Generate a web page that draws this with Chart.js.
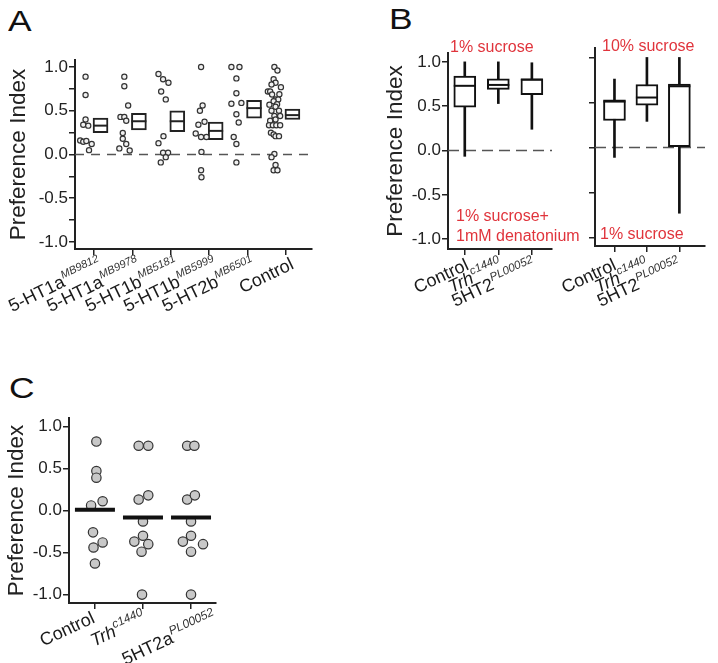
<!DOCTYPE html>
<html>
<head>
<meta charset="utf-8">
<script src="https://cdn.jsdelivr.net/npm/chart.js@4.4.0/dist/chart.umd.min.js"></script>
<style>
  body { margin: 0; background: #fff; width: 718px; height: 663px; position: relative; overflow: hidden;
         font-family: "Liberation Sans", Arial, sans-serif; }
  .panel { position: absolute; }
  .letter { position: absolute; font-size: 30px; line-height: 1; color: #111; transform: scaleX(1.18); transform-origin: left top; }
  .red { position: absolute; font-size: 16px; line-height: 1; color: #e0343c; white-space: nowrap; }
</style>
</head>
<body>
<div class="letter" style="left:8px;top:6px">A</div>
<div class="letter" style="left:389px;top:4px">B</div>
<div class="letter" style="left:9px;top:373px">C</div>

<div class="panel" style="left:0;top:40px"><canvas id="chartA" width="330" height="300"></canvas></div>
<div class="panel" style="left:375px;top:30px"><canvas id="chartB1" width="190" height="300"></canvas></div>
<div class="panel" style="left:555px;top:30px"><canvas id="chartB2" width="163" height="300"></canvas></div>
<div class="panel" style="left:0;top:380px"><canvas id="chartC" width="240" height="283"></canvas></div>

<div class="red" style="left:450px;top:39px">1% sucrose</div>
<div class="red" style="left:602px;top:38px">10% sucrose</div>
<div class="red" style="left:456px;top:208px">1% sucrose+</div>
<div class="red" style="left:456px;top:228px">1mM denatonium</div>
<div class="red" style="left:600px;top:226px">1% sucrose</div>

<script>
const FONT = '"Liberation Sans", Arial, sans-serif';
Chart.defaults.font.family = FONT;
Chart.defaults.color = '#222';
Chart.defaults.animation = false;

// ---- panel A: single flies per line, box = quartiles with median
const catsA = ['5-HT1a', '5-HT1a', '5-HT1b', '5-HT1b', '5-HT2b', 'Control'];
const supsA = ['MB9812', 'MB9978', 'MB5181', 'MB5999', 'MB6501', ''];
const pointsA = [
  [0.89, 0.68, 0.40, 0.34, 0.33, 0.16, 0.145, 0.155, 0.12, 0.05],
  [0.89, 0.78, 0.56, 0.43, 0.43, 0.385, 0.245, 0.18, 0.12, 0.07, 0.045],
  [0.92, 0.86, 0.82, 0.72, 0.63, 0.21, 0.13, 0.02, 0.02, -0.03, -0.09],
  [1.0, 0.56, 0.50, 0.375, 0.34, 0.24, 0.20, 0.20, 0.03, -0.18, -0.26],
  [1.0, 1.0, 0.87, 0.70, 0.58, 0.59, 0.46, 0.365, 0.20, 0.12, -0.09],
  [1.0, 0.96, 0.86, 0.82, 0.80, 0.77, 0.72, 0.72, 0.69, 0.685, 0.63, 0.63, 0.61, 0.575, 0.57, 0.545,
   0.50, 0.50, 0.44, 0.44, 0.40, 0.385, 0.335, 0.335, 0.335, 0.335, 0.25, 0.23, 0.21, 0.21,
   0.005, -0.03, -0.12, -0.18, -0.18]
];
// horizontal scatter of the dots, in category units
const jitterA = [
  [-0.22, -0.22, -0.22, -0.28, -0.15, -0.36, -0.28, -0.20, -0.06, -0.13],
  [-0.21, -0.21, -0.11, -0.31, -0.21, -0.16, -0.25, -0.25, -0.16, -0.34, -0.07],
  [-0.32, -0.20, -0.06, -0.25, -0.13, -0.19, -0.32, -0.20, -0.07, -0.13, -0.26],
  [-0.21, -0.17, -0.24, -0.12, -0.28, -0.35, -0.21, -0.07, -0.20, -0.21, -0.20],
  [-0.42, -0.21, -0.29, -0.29, -0.42, -0.16, -0.29, -0.23, -0.36, -0.29, -0.29],
  [-0.30, -0.22, -0.32, -0.27, -0.375, -0.13, -0.47, -0.41, -0.17, -0.36, -0.27, -0.20, -0.32, -0.23, -0.43, -0.27,
   -0.18, -0.375, -0.30, -0.15, -0.27, -0.41, -0.44, -0.34, -0.25, -0.15, -0.39, -0.32, -0.27, -0.18,
   -0.30, -0.375, -0.27, -0.32, -0.22]
];
const q1A = [0.25, 0.28, 0.26, 0.17, 0.415, 0.40];
const medA = [0.33, 0.38, 0.38, 0.27, 0.53, 0.45];
const q3A = [0.415, 0.47, 0.50, 0.37, 0.62, 0.52];

// ---- panel B: box plots, two conditions
const catsB = ['Control', 'Trh', '5HT2'];
const supsB = ['', 'c1440', 'PL00052'];
const italB = [false, true, false];
const loB1 = [-0.065, 0.53, 0.24];
const q1B1 = [0.49, 0.69, 0.63];
const medB1 = [0.73, 0.74, 0.80];
const q3B1 = [0.84, 0.81, 0.81];
const hiB1 = [1.0, 1.0, 0.99];
const loB2 = [-0.11, 0.29, -0.73];
const q1B2 = [0.30, 0.47, 0.01];
const medB2 = [0.51, 0.555, 0.68];
const q3B2 = [0.53, 0.70, 0.705];
const hiB2 = [0.76, 1.0, 1.0];

// ---- panel C: dots with mean bar
const catsC = ['Control', 'Trh', '5HT2a'];
const supsC = ['', 'c1440', 'PL00052'];
const italC = [false, true, false];
const pointsC = [
  [0.82, 0.47, 0.39, 0.06, 0.11, -0.26, -0.44, -0.38, -0.63],
  [0.77, 0.77, 0.13, 0.18, -0.13, -0.30, -0.37, -0.40, -0.49, -1.0],
  [0.77, 0.77, 0.13, 0.18, -0.13, -0.30, -0.37, -0.40, -0.49, -1.0]
];
const jitterC = [
  [0.03, 0.03, 0.03, -0.08, 0.16, -0.04, -0.03, 0.16, 0.0],
  [-0.09, 0.11, -0.09, 0.11, 0.0, 0.0, -0.18, 0.11, -0.03, -0.02],
  [-0.08, 0.07, -0.08, 0.08, 0.0, 0.0, -0.17, 0.25, 0.0, 0.0]
];
const meanC = [0.01, -0.083, -0.083];

function zeroLine(dash) {
  return {
    id: 'zeroLine',
    beforeDatasetsDraw(chart) {
      const { ctx, chartArea: a } = chart;
      const py = chart.scales.y.getPixelForValue(0);
      ctx.save();
      ctx.strokeStyle = '#555';
      ctx.lineWidth = 1.5;
      ctx.setLineDash(dash);
      ctx.beginPath();
      ctx.moveTo(a.left, py);
      ctx.lineTo(a.right, py);
      ctx.stroke();
      ctx.restore();
    }
  };
}

// rotated category labels with a small italic superscript
function xLabels(o) {
  return {
    id: 'xLabels',
    afterDraw(chart) {
      const { ctx, chartArea } = chart;
      const xs = chart.scales.x;
      o.cats.forEach((name, i) => {
        const mainFont = (o.ital && o.ital[i] ? 'italic ' : '') + o.size + 'px ' + FONT;
        const supFont = 'italic ' + o.supSize + 'px ' + FONT;
        const sup = o.sups[i];
        const shift = o.shift ? o.shift[i] : 0;
        ctx.save();
        ctx.translate(xs.getPixelForValue(i + 1) + o.dx + shift, chartArea.bottom + o.dy);
        ctx.rotate(-o.angle * Math.PI / 180);
        ctx.textAlign = 'left';
        ctx.textBaseline = 'alphabetic';
        ctx.font = supFont;
        const ws = sup ? ctx.measureText(sup).width : 0;
        ctx.font = mainFont;
        const wm = ctx.measureText(name).width;
        ctx.fillStyle = '#1a1a1a';
        ctx.fillText(name, -wm - ws, 0);
        if (sup) {
          ctx.font = supFont;
          ctx.fillStyle = '#333';
          ctx.fillText(sup, -ws, -o.raise);
        }
        ctx.restore();
      });
    }
  };
}

function yAxis(o) {
  return {
    min: o.min, max: o.max,
    afterFit: s => { s.width = o.width; },
    border: { color: '#222', width: 2 },
    grid: { drawOnChartArea: false, tickLength: 6, color: '#222', lineWidth: 1.5 },
    ticks: {
      stepSize: o.step, includeBounds: false, padding: 1, font: { size: 17 }, color: '#222',
      callback: v => {
        if (!o.labels) return '';
        if (Math.abs(v * 2 - Math.round(v * 2)) > 1e-6) return '';
        return (Math.abs(v) < 1e-9 ? 0 : v).toFixed(1);
      }
    },
    title: o.title
      ? { display: true, text: 'Preference Index', font: { size: 22.5 }, color: '#222', padding: { top: o.titlePad, bottom: 0 } }
      : { display: false }
  };
}

function xAxis(o) {
  return {
    type: 'linear', min: o.min, max: o.max,
    offset: false,
    afterFit: s => { s.height = o.height; },
    border: { color: '#222', width: 2 },
    grid: { offset: false, drawOnChartArea: false, tickLength: 6, color: '#222', lineWidth: 1.5 },
    ticks: { display: false, stepSize: 1, includeBounds: false, autoSkip: false }
  };
}

function baseOptions(pad, xs, ys) {
  return {
    responsive: false,
    animation: false,
    events: [],
    layout: { padding: pad },
    plugins: { legend: { display: false }, tooltip: { enabled: false } },
    scales: { x: xs, y: ys }
  };
}

function boxDatasets(lo, q1, med, q3, hi, width) {
  return [
    {
      type: 'scatter', order: 0,
      data: med.map((m, i) => ({ x: i + 1, y: m })),
      pointStyle: 'line', pointRadius: width / 2, pointBorderWidth: 2, pointBorderColor: '#111'
    },
    {
      type: 'bar', order: 2, grouped: false,
      data: q1.map((q, i) => ({ x: i + 1, y: [q, q3[i]] })),
      backgroundColor: '#fff', borderColor: '#111', borderWidth: 2, borderSkipped: false, barThickness: width
    },
    {
      type: 'bar', order: 3, grouped: false,
      data: lo.map((l, i) => ({ x: i + 1, y: [l, hi[i]] })),
      backgroundColor: '#111', borderWidth: 0, barThickness: 2
    }
  ];
}

// ---- chart A
const BOX_SHIFT_A = 0.17;
new Chart(document.getElementById('chartA'), {
  type: 'scatter',
  data: {
    datasets: [
      {
        type: 'scatter', order: 0,
        data: medA.map((m, i) => ({ x: i + 1 + BOX_SHIFT_A, y: m })),
        pointStyle: 'line', pointRadius: 7.5, pointBorderWidth: 2, pointBorderColor: '#222'
      },
      {
        type: 'scatter', order: 1,
        data: pointsA.flatMap((vals, g) => vals.map((v, k) => ({ x: g + 1 + jitterA[g][k], y: v }))),
        pointRadius: 2.6, pointBorderWidth: 1.2, pointBorderColor: '#333', pointBackgroundColor: '#f0f0f0'
      },
      {
        type: 'bar', order: 2, grouped: false,
        data: q1A.map((q, i) => ({ x: i + 1 + BOX_SHIFT_A, y: [q, q3A[i]] })),
        backgroundColor: '#fff', borderColor: '#222', borderWidth: 2, borderSkipped: false, barThickness: 15
      }
    ]
  },
  options: baseOptions({ top: 20, right: 18, left: 0, bottom: 0 },
    xAxis({ min: 0.505, max: 6.68, height: 91 }),
    yAxis({ min: -1.08, max: 1.08, width: 75, step: 0.25, labels: true, title: true, titlePad: 5 })),
  plugins: [zeroLine([9, 7]), xLabels({ cats: catsA, sups: supsA, size: 18, supSize: 11, raise: 8, angle: 26, dx: 9, dy: 19 })]
});

// ---- chart B, left (1% sucrose vs 1% sucrose + denatonium)
new Chart(document.getElementById('chartB1'), {
  type: 'scatter',
  data: { datasets: boxDatasets(loB1, q1B1, medB1, q3B1, hiB1, 22) },
  options: baseOptions({ top: 23, right: 6, left: 0, bottom: 0 },
    xAxis({ min: 0.5, max: 3.6, height: 81 }),
    yAxis({ min: -1.11, max: 1.10, width: 73, step: 0.5, labels: true, title: true, titlePad: 7 })),
  plugins: [zeroLine([11, 6]), xLabels({ cats: catsB, sups: supsB, ital: italB, size: 18, supSize: 11.5, raise: 8, angle: 25, dx: 5, dy: 20 })]
});

// ---- chart B, right (10% sucrose vs 1% sucrose)
new Chart(document.getElementById('chartB2'), {
  type: 'scatter',
  data: { datasets: boxDatasets(loB2, q1B2, medB2, q3B2, hiB2, 22) },
  options: baseOptions({ top: 18, right: 0, left: 0, bottom: 0 },
    xAxis({ min: 0.4, max: 3.79, height: 84 }),
    yAxis({ min: -1.094, max: 1.105, width: 40, step: 0.5, labels: false, title: false })),
  plugins: [zeroLine([11, 6]), xLabels({ cats: catsB, sups: supsB, ital: italB, size: 18, supSize: 11.5, raise: 8, angle: 25, dx: 3, dy: 23 })]
});

// ---- chart C
new Chart(document.getElementById('chartC'), {
  type: 'scatter',
  data: {
    datasets: [
      {
        type: 'scatter', order: 0,
        data: meanC.map((m, i) => ({ x: i + 1, y: m })),
        pointStyle: 'line', pointRadius: 20, pointBorderWidth: 4, pointBorderColor: '#111'
      },
      {
        type: 'scatter', order: 1,
        data: pointsC.flatMap((vals, g) => vals.map((v, k) => ({ x: g + 1 + jitterC[g][k], y: v }))),
        pointRadius: 4.7, pointBorderWidth: 1.2, pointBorderColor: '#333', pointBackgroundColor: '#c8c8c8'
      }
    ]
  },
  options: baseOptions({ top: 38, right: 18, left: 0, bottom: 0 },
    xAxis({ min: 0.46, max: 3.52, height: 60 }),
    yAxis({ min: -1.1, max: 1.1, width: 69, step: 0.5, labels: true, title: true, titlePad: 3 })),
  plugins: [xLabels({ cats: catsC, sups: supsC, ital: italC, size: 18, supSize: 12, raise: 8, angle: 25, dx: 1, dy: 19, shift: [0, 3, 26] })]
});
</script>
</body>
</html>
